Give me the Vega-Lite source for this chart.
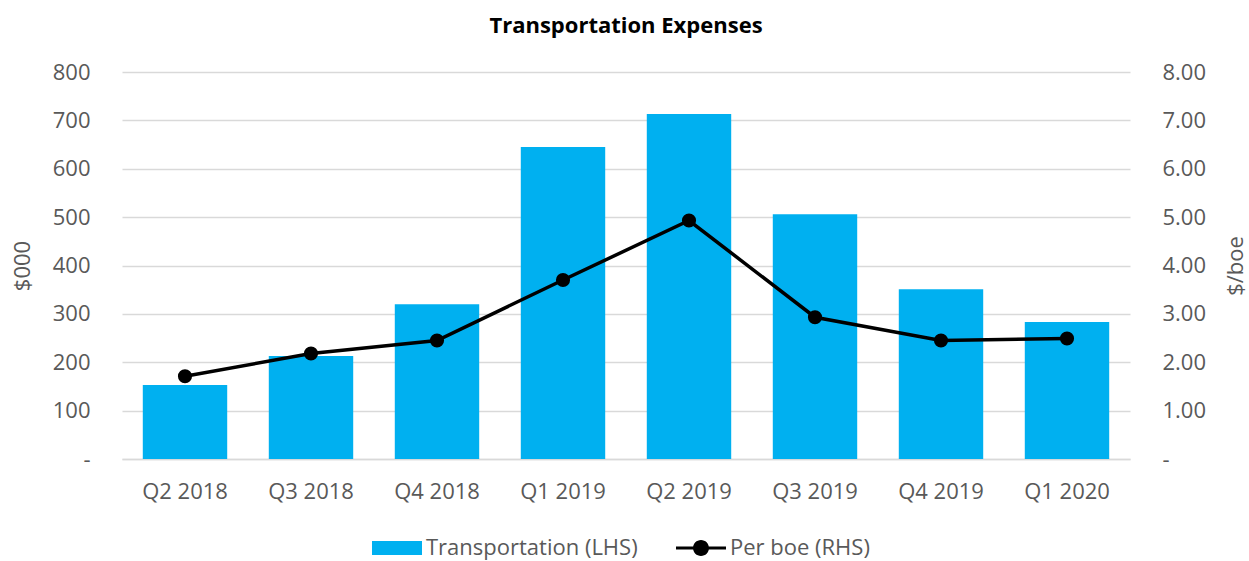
{
  "$schema": "https://vega.github.io/schema/vega-lite/v6.json",
  "width": 1008,
  "height": 387,
  "autosize": "none",
  "padding": {"left": 122, "top": 72, "right": 119, "bottom": 102},
  "background": "white",
  "title": {"text": "Transportation Expenses", "fontSize": 22, "fontWeight": "bold", "font": "Open Sans", "color": "#000000", "anchor": "middle", "offset": 23},
  "config": {
    "view": {"stroke": null},
    "font": "Open Sans",
    "axis": {"labelFont": "Open Sans", "titleFont": "Open Sans", "labelColor": "#595959", "titleColor": "#595959", "labelFontSize": 22, "titleFontSize": 22, "titleFontWeight": "normal", "labelOverlap": false}
  },
  "data": {"values": [
    {"q": "Q2 2018", "t": 153, "b": 1.71},
    {"q": "Q3 2018", "t": 213, "b": 2.18},
    {"q": "Q4 2018", "t": 320, "b": 2.45},
    {"q": "Q1 2019", "t": 645, "b": 3.70},
    {"q": "Q2 2019", "t": 713, "b": 4.93},
    {"q": "Q3 2019", "t": 506, "b": 2.93},
    {"q": "Q4 2019", "t": 351, "b": 2.45},
    {"q": "Q1 2020", "t": 283, "b": 2.49}
  ]},
  "encoding": {
    "x": {"field": "q", "type": "nominal", "sort": null, "scale": {"paddingInner": 0.33, "paddingOuter": 0.165},
      "axis": {"title": null, "labelAngle": 0, "ticks": false, "domain": true, "domainColor": "#D9D9D9", "domainWidth": 1.5, "labelPadding": 22}}
  },
  "layer": [
    {
      "mark": {"type": "bar"},
      "encoding": {
        "y": {"field": "t", "type": "quantitative", "scale": {"domain": [0, 800]},
          "axis": {"title": "$000", "values": [0,100,200,300,400,500,600,700,800], "labelExpr": "datum.value == 0 ? '-' : datum.label", "ticks": false, "domain": false, "grid": true, "gridColor": "#D9D9D9", "gridWidth": 1.5, "labelPadding": 32, "titlePadding": 18}},
        "color": {"datum": "Transportation (LHS)", "type": "nominal",
          "scale": {"domain": ["Transportation (LHS)", "Per boe (RHS)"], "range": ["#00B0F0", "#000000"]},
          "legend": {"title": null, "orient": "none", "legendX": 250, "legendY": 451, "padding": 0, "direction": "horizontal", "labelFontSize": 22, "labelColor": "#595959", "labelFont": "Open Sans", "labelLimit": 0, "columnPadding": 38, "labelOffset": 4, "symbolSize": 2500,
            "encode": {"symbols": {"update": {
              "shape": {"signal": "datum.value === 'Per boe (RHS)' ? 'M-1,-0.06H1V0.06H-1Z M0.32,0 A0.32,0.32 0 1,1 -0.32,0 A0.32,0.32 0 1,1 0.32,0Z' : 'M-1,-0.28H1V0.28H-1Z'"},
              "fill": {"signal": "datum.value === 'Per boe (RHS)' ? '#000000' : '#00B0F0'"},
              "strokeWidth": {"value": 0},
              "size": {"value": 2500},
              "opacity": {"value": 1}
            }}}}
        }
      }
    },
    {
      "mark": {"type": "line", "strokeWidth": 3.5, "point": {"filled": true, "size": 200, "color": "#000000", "opacity": 1}},
      "encoding": {
        "y": {"field": "b", "type": "quantitative", "scale": {"domain": [0, 8]},
          "axis": {"title": "$/boe", "orient": "right", "titleAngle": 270, "values": [0,1,2,3,4,5,6,7,8], "format": ".2f", "labelExpr": "datum.value == 0 ? '-' : datum.label", "ticks": false, "domain": false, "grid": false, "labelPadding": 32, "titlePadding": 42}},
        "color": {"datum": "Per boe (RHS)", "type": "nominal"}
      }
    }
  ],
  "resolve": {"scale": {"y": "independent"}}
}
